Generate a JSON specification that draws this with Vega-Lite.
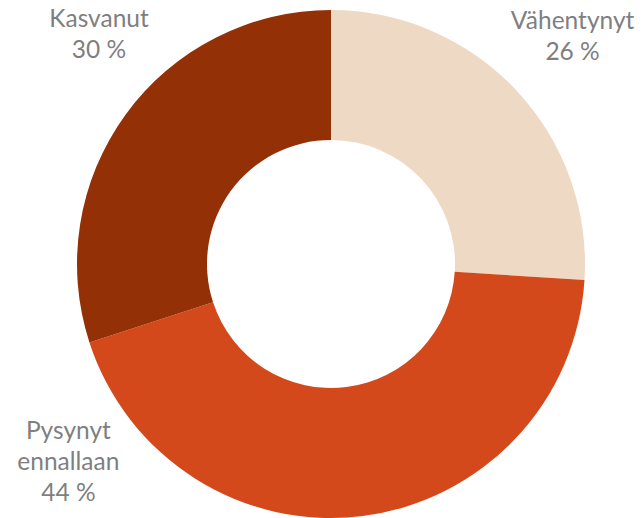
{
  "$schema": "https://vega.github.io/schema/vega-lite/v6.json",
  "width": 624,
  "height": 508,
  "autosize": "none",
  "padding": {"left": 19, "top": 10, "right": 0, "bottom": 0},
  "background": "white",
  "config": {"view": {"stroke": null}},
  "data": {"values": [
    {"luokka": "Vähentynyt", "osuus": 26, "jarjestys": 1},
    {"luokka": "Pysynyt ennallaan", "osuus": 44, "jarjestys": 2},
    {"luokka": "Kasvanut", "osuus": 30, "jarjestys": 3}
  ]},
  "transform": [
    {"stack": "osuus", "groupby": [], "sort": [{"field": "jarjestys"}], "as": ["alku", "loppu"]},
    {"calculate": "(datum.alku + datum.loppu) / 2", "as": "keski"},
    {"calculate": "replace(datum.luokka, ' ', '\\n') + '\\n' + datum.osuus + ' %'", "as": "nimi"}
  ],
  "layer": [
    {
      "mark": {"type": "arc", "outerRadius": 254, "innerRadius": 124},
      "encoding": {
        "theta": {"field": "alku", "type": "quantitative", "scale": {"domain": [0, 100]}},
        "theta2": {"field": "loppu"},
        "color": {
          "field": "luokka", "type": "nominal", "legend": null,
          "scale": {"domain": ["Vähentynyt", "Pysynyt ennallaan", "Kasvanut"], "range": ["#EED9C4", "#D4491B", "#943006"]}
        }
      }
    },
    {
      "transform": [{"filter": "datum.luokka == 'Vähentynyt'"}],
      "mark": {"type": "text", "radius": 330, "dx": 1, "dy": -9, "font": "Lato", "fontSize": 24.5, "lineHeight": 31, "lineBreak": "\n", "color": "#7F7F7F", "align": "center", "baseline": "alphabetic"},
      "encoding": {"theta": {"field": "keski", "type": "quantitative", "scale": {"domain": [0, 100]}}, "text": {"field": "nimi"}}
    },
    {
      "transform": [{"filter": "datum.luokka == 'Kasvanut'"}],
      "mark": {"type": "text", "radius": 330, "dx": 35, "dy": -43, "font": "Lato", "fontSize": 24.5, "lineHeight": 31, "lineBreak": "\n", "color": "#7F7F7F", "align": "center", "baseline": "alphabetic"},
      "encoding": {"theta": {"field": "keski", "type": "quantitative", "scale": {"domain": [0, 100]}}, "text": {"field": "nimi"}}
    },
    {
      "transform": [{"filter": "datum.luokka == 'Pysynyt ennallaan'"}],
      "mark": {"type": "text", "radius": 330, "dx": -304, "dy": -152, "font": "Lato", "fontSize": 24.5, "lineHeight": 31, "lineBreak": "\n", "color": "#7F7F7F", "align": "center", "baseline": "alphabetic"},
      "encoding": {"theta": {"field": "keski", "type": "quantitative", "scale": {"domain": [0, 100]}}, "text": {"field": "nimi"}}
    }
  ]
}
